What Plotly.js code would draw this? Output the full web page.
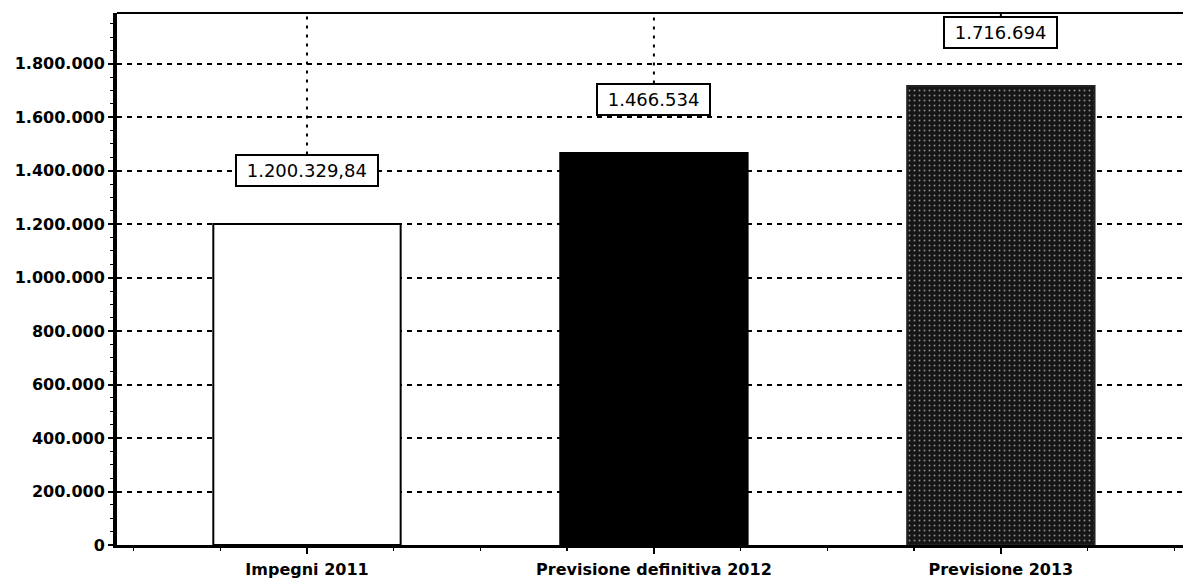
<!DOCTYPE html>
<html>
<head>
<meta charset="utf-8">
<script src="https://cdn.plot.ly/plotly-3.0.1.min.js"></script>
<style>html,body{margin:0;padding:0;background:#fff;}#chart{width:1183px;height:583px;}</style>
</head>
<body>
<div id="chart"></div>
<script>
// ---- data ----
const categories = ['Impegni 2011', 'Previsione definitiva 2012', 'Previsione 2013'];
const values = [1200329.84, 1466534, 1716694];
const valueLabels = ['1.200.329,84', '1.466.534', '1.716.694'];
const yTickValues = [0, 200000, 400000, 600000, 800000, 1000000, 1200000, 1400000, 1600000, 1800000];

const xIdx = categories.map((c, i) => i);
const labelOffset = 200000;   // label placed above the bar
const boxHalf = 60000;        // half height of the label box in data units

const bar = {
  type: 'bar',
  x: xIdx,
  y: values,
  width: 0.54,
  marker: {
    color: ['#ffffff', '#000000', '#161616'],
    line: {color: ['#000000', '#000000', '#222222'], width: 2},
    pattern: {
      shape: ['', '', '.'],
      fgcolor: '#7a7a7a',
      size: 5,
      solidity: 0.12,
      fillmode: 'overlay'
    }
  },
  hoverinfo: 'x+y',
  showlegend: false
};

const annotations = xIdx.map(i => ({
  x: i, y: values[i] + labelOffset, xref: 'x', yref: 'y',
  text: '\u00a0' + valueLabels[i] + '\u00a0',
  showarrow: false,
  font: {family: 'DejaVu Sans', size: 18, color: '#000'},
  bgcolor: '#ffffff',
  bordercolor: '#000000',
  borderwidth: 2,
  borderpad: 4,
  xanchor: 'center', yanchor: 'middle'
}));

const shapes = xIdx.map(i => ({
  type: 'line', xref: 'x', yref: 'y',
  x0: i, x1: i,
  y0: values[i] + labelOffset + boxHalf, y1: 1990000,
  line: {color: '#000', width: 2, dash: '3px,6px'},
  layer: 'below'
}));
shapes.push({
  type: 'line', xref: 'paper', yref: 'paper',
  x0: 0, x1: 1, y0: 1, y1: 1,
  line: {color: '#000', width: 2}
});

const layout = {
  width: 1183, height: 583,
  margin: {l: 117, r: 0, t: 13, b: 38, pad: 0},
  paper_bgcolor: '#ffffff',
  plot_bgcolor: '#ffffff',
  separators: ',.',
  showlegend: false,
  xaxis: {
    range: [-0.5476, 2.525],
    tickmode: 'array',
    tickvals: xIdx,
    ticktext: categories,
    ticks: 'outside', ticklen: 6, tickwidth: 2, tickcolor: '#000',
    ticklabelstandoff: 2,
    minor: {dtick: 0.25, tick0: 0, ticks: 'outside', ticklen: 3, tickwidth: 1.5, tickcolor: '#000', showgrid: false},
    showline: true, linecolor: '#000', linewidth: 3,
    showgrid: false, zeroline: false,
    tickfont: {family: 'DejaVu Sans', size: 16, color: '#000', weight: 'bold'},
    fixedrange: true
  },
  yaxis: {
    range: [0, 1990000],
    tickmode: 'array',
    tickvals: yTickValues,
    tickformat: ',d',
    ticks: 'outside', ticklen: 5, tickwidth: 2, tickcolor: '#000',
    minor: {dtick: 50000, tick0: 0, ticks: 'outside', ticklen: 3, tickwidth: 1, tickcolor: '#000', showgrid: false},
    showline: true, linecolor: '#000', linewidth: 4,
    showgrid: true, gridcolor: '#000', gridwidth: 2, griddash: '5px,5px',
    zeroline: false,
    tickfont: {family: 'DejaVu Sans', size: 16, color: '#000', weight: 'bold'},
    fixedrange: true
  },
  annotations: annotations,
  shapes: shapes
};

Plotly.newPlot('chart', [bar], layout, {displayModeBar: false, staticPlot: true});
</script>
</body>
</html>
